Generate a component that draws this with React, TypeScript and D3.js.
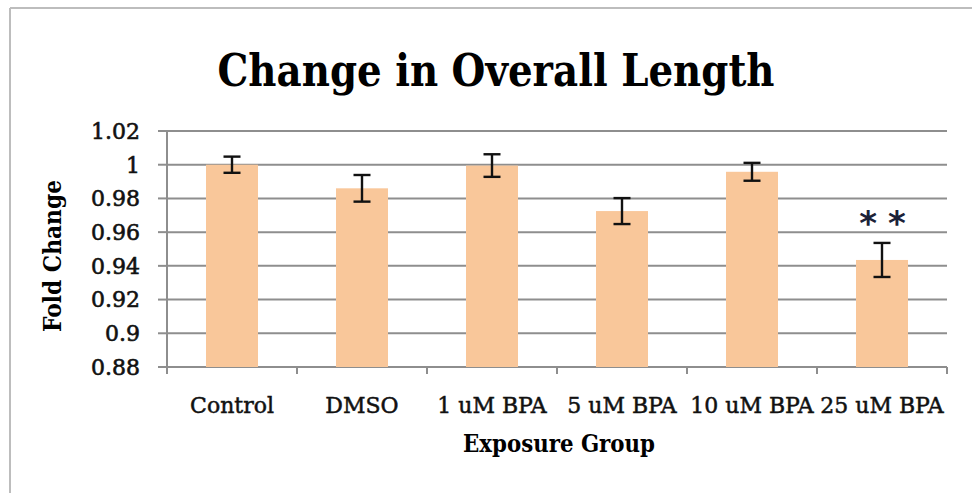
import React from "react";
import * as d3 from "d3";

const categories = ["Control", "DMSO", "1 uM BPA", "5 uM BPA", "10 uM BPA", "25 uM BPA"];
const foldChange = [1.0, 0.986, 0.9995, 0.9725, 0.9958, 0.9435];
const errors = [0.0048, 0.0079, 0.0067, 0.0077, 0.0053, 0.0101];
const significance = ["", "", "", "", "", "**"];
const yTicks = [0.88, 0.9, 0.92, 0.94, 0.96, 0.98, 1.0, 1.02];

const title = "Change in Overall Length";
const xTitle = "Exposure Group";
const yTitle = "Fold Change";

const W = 972;
const H = 493;
const M = { left: 167, right: 25, top: 131, bottom: 126 };

export default function App() {
  const x = d3
    .scaleBand<string>()
    .domain(categories)
    .range([M.left, W - M.right])
    .paddingInner(0.6)
    .paddingOuter(0.3);
  const xStep = x.step();
  const y = d3.scaleLinear().domain([0.88, 1.02]).range([H - M.bottom, M.top]);
  const fmt = d3.format("~g");
  const serif = "'DejaVu Serif', 'Liberation Serif', serif";
  const gridColor = "#8e8e8e";
  const y0 = y(0.88);
  const plotRight = W - M.right;

  return (
    <svg
      width={W}
      height={H}
      viewBox={`0 0 ${W} ${H}`}
      style={{ position: "absolute", left: 0, top: 0, display: "block", background: "#fff" }}
    >
      {/* outer frame */}
      <line x1={10} y1={8} x2={W} y2={8} stroke="#bdbdbd" strokeWidth={2} />
      <line x1={10} y1={8} x2={10} y2={H} stroke="#bdbdbd" strokeWidth={2} />

      {/* title */}
      <text
        x={496}
        y={86}
        textAnchor="middle"
        fontFamily={serif}
        fontWeight="bold"
        fontSize={45}
        textLength={557}
        lengthAdjust="spacingAndGlyphs"
        fill="#000"
      >
        {title}
      </text>

      {/* gridlines */}
      {yTicks.map((t) => (
        <line
          key={"g" + t}
          x1={M.left}
          x2={plotRight}
          y1={y(t)}
          y2={y(t)}
          stroke={gridColor}
          strokeWidth={2}
        />
      ))}

      {/* y axis */}
      <line x1={M.left} x2={M.left} y1={y(1.02)} y2={y0 + 1} stroke={gridColor} strokeWidth={2} />
      {yTicks.map((t) => (
        <g key={"yt" + t}>
          <line x1={M.left - 9} x2={M.left} y1={y(t)} y2={y(t)} stroke={gridColor} strokeWidth={2} />
          <text
            x={140}
            y={y(t)}
            dy="0.36em"
            textAnchor="end"
            fontFamily={serif}
            fontSize={22}
            fill="#111"
            stroke="#111"
            strokeWidth={0.6}
          >
            {fmt(t)}
          </text>
        </g>
      ))}

      {/* x axis ticks */}
      {categories.map((c, i) => (
        <line
          key={"xt" + c}
          x1={M.left + i * xStep}
          x2={M.left + i * xStep}
          y1={y0}
          y2={y0 + 7}
          stroke={gridColor}
          strokeWidth={2}
        />
      ))}
      <line x1={plotRight} x2={plotRight} y1={y0} y2={y0 + 7} stroke={gridColor} strokeWidth={2} />

      {/* bars */}
      {categories.map((c, i) => (
        <rect
          key={"b" + c}
          x={x(c)!}
          y={y(foldChange[i])}
          width={x.bandwidth()}
          height={y0 - y(foldChange[i])}
          fill="#f9c79a"
        />
      ))}

      {/* error bars */}
      {categories.map((c, i) => {
        const cx = x(c)! + x.bandwidth() / 2;
        const top = y(foldChange[i] + errors[i]);
        const bot = y(foldChange[i] - errors[i]);
        return (
          <g key={"e" + c} stroke="#111" strokeWidth={2.4}>
            <line x1={cx} x2={cx} y1={top} y2={bot} />
            <line x1={cx - 8.5} x2={cx + 8.5} y1={top} y2={top} />
            <line x1={cx - 8.5} x2={cx + 8.5} y1={bot} y2={bot} />
          </g>
        );
      })}

      {/* significance */}
      {categories.map((c, i) =>
        significance[i] ? (
          <text
            key={"s" + c}
            x={x(c)! + x.bandwidth() / 2 + 6}
            y={y(foldChange[i] + errors[i]) - 8}
            textAnchor="middle"
            fontFamily="'DejaVu Sans', sans-serif"
            fontWeight="bold"
            fontSize={34}
            letterSpacing={11}
            fill="#1b2238"
          >
            {significance[i]}
          </text>
        ) : null
      )}

      {/* x labels */}
      {categories.map((c) => (
        <text
          key={"xl" + c}
          x={x(c)! + x.bandwidth() / 2}
          y={413}
          textAnchor="middle"
          fontFamily={serif}
          fontSize={22}
          fill="#111"
          stroke="#111"
          strokeWidth={0.5}
        >
          {c}
        </text>
      ))}

      {/* axis titles */}
      <text
        x={(M.left + plotRight) / 2 + 2}
        y={452}
        textAnchor="middle"
        fontFamily={serif}
        fontWeight="bold"
        fontSize={24}
        textLength={192}
        lengthAdjust="spacingAndGlyphs"
        fill="#000"
      >
        {xTitle}
      </text>
      <text
        transform={`translate(61, 256) rotate(-90)`}
        textAnchor="middle"
        fontFamily={serif}
        fontWeight="bold"
        fontSize={24}
        textLength={152}
        lengthAdjust="spacingAndGlyphs"
        fill="#000"
      >
        {yTitle}
      </text>
    </svg>
  );
}
